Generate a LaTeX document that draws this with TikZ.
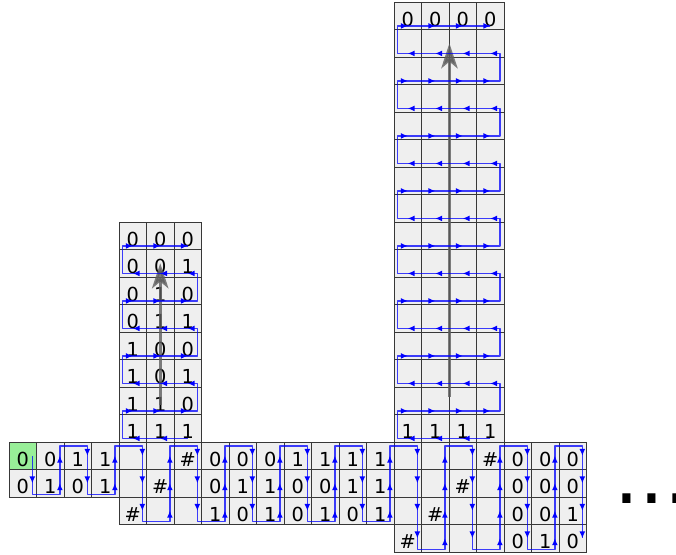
\documentclass[tikz,border=0pt]{standalone}
\usepackage{fontspec}
\setmainfont{DejaVu Sans}
\usetikzlibrary{arrows.meta}
\definecolor{TapeLine}{HTML}{383838}
\definecolor{TapeFill}{HTML}{EFEFEF}
\definecolor{TapeStart}{HTML}{98EE98}
\definecolor{TapeHead}{HTML}{0000FF}
\definecolor{TapeSweep}{HTML}{5E5E5E}
\tikzset{
  tapecell/.style={draw=TapeLine,fill=TapeFill,line width=0.9pt,
    minimum size=1cm,inner sep=0pt,text height=0.75cm,text depth=0pt,
    font=\fontsize{20}{20}\selectfont},
  headline/.style={TapeHead,line width=1.4pt,line join=round,draw opacity=0.75},
  headtip/.style={TapeHead,line width=1.2pt,-{Latex[length=7pt,width=6pt]}},
  sweep/.style={TapeSweep,line width=3pt,opacity=0.8,
    -{Stealth[length=26pt,width=17pt,inset=7pt]}}
}
\begin{document}
\begin{tikzpicture}[x=1cm,y=1cm]
  \useasboundingbox (-0.327,-4.073) rectangle (24.255,16.073);

  \node[tapecell,fill=TapeStart] (t-0-1) at (0.5,-0.5) {0};
  \node[tapecell] (t-0-2) at (0.5,-1.5) {0};
  \foreach \c/\va/\vb in {1/0/1,2/1/0,3/1/1}{
    \node[tapecell] (t-\c-1) at (\c+0.5,-0.5) {\va};
    \node[tapecell] (t-\c-2) at (\c+0.5,-1.5) {\vb};
  }
  \foreach \c/\va/\vb/\vc in {4/{}/{}/\#,5/{}/\#/{},6/\#/{}/{},7/0/0/1,
      8/0/1/0,9/0/1/1,10/1/0/0,11/1/0/1,12/1/1/0,13/1/1/1}{
    \node[tapecell] (t-\c-1) at (\c+0.5,-0.5) {\va};
    \node[tapecell] (t-\c-2) at (\c+0.5,-1.5) {\vb};
    \node[tapecell] (t-\c-3) at (\c+0.5,-2.5) {\vc};
  }
  \foreach \c/\va/\vb/\vc/\vd in {14/{}/{}/{}/\#,15/{}/{}/\#/{},
      16/{}/\#/{}/{},17/\#/{}/{}/{},18/0/0/0/0,19/0/0/0/1,20/0/0/1/0}{
    \node[tapecell] (t-\c-1) at (\c+0.5,-0.5) {\va};
    \node[tapecell] (t-\c-2) at (\c+0.5,-1.5) {\vb};
    \node[tapecell] (t-\c-3) at (\c+0.5,-2.5) {\vc};
    \node[tapecell] (t-\c-4) at (\c+0.5,-3.5) {\vd};
  }

  \foreach \k/\va/\vb/\vc in {1/1/1/1,2/1/1/0,3/1/0/1,4/1/0/0,
      5/0/1/1,6/0/1/0,7/0/0/1,8/0/0/0}{
    \node[tapecell] (l-\k-1) at (4.5,\k-0.5) {\va};
    \node[tapecell] (l-\k-2) at (5.5,\k-0.5) {\vb};
    \node[tapecell] (l-\k-3) at (6.5,\k-0.5) {\vc};
  }
  \foreach \k in {1,...,16}{
    \foreach \j in {1,...,4}{
      \node[tapecell] (r-\k-\j) at (13.5+\j,\k-0.5)
        {\ifnum\k=1 1\else\ifnum\k=16 0\fi\fi};
    }
  }

  \coordinate (l-from) at ([yshift=-0.15cm]l-2-2.center);
  \coordinate (r-from) at ([yshift=0.15cm]r-2-2.east);
  \draw[sweep] (l-from) -- (l-7-2.center);
  \draw[sweep] (r-from) -- (r-15-2.east);

  \draw[headline] (0.85,-0.5)
    foreach \c/\n in {0/2,2/2,4/3,6/3,8/3,10/3,12/3,14/4,16/4,18/4}{
      -- (\c+0.85,-\n+0.1) -- (\c+1.85,-\n+0.1)
      -- (\c+1.85,-0.14) -- (\c+2.85,-0.14)
    } -- (20.85,-3.5);
  \foreach \c in {0,...,20}{
    \pgfmathtruncatemacro\n{\c<4?2:(\c<14?3:4)}
    \pgfmathtruncatemacro\m{\c==0?2:1}
    \pgfmathsetmacro\s{mod(\c,2)==0?0.2:-0.2}
    \foreach \r in {\m,...,\n}
      \draw[headtip] (\c+0.85,0.5-\r+\s) -- (\c+0.85,0.5-\r);
  }

  \draw[headline] (6.5,0.13)
    foreach \k in {0,2,4}{
      -- (4.13,\k+0.13) -- (4.13,\k+1.13) -- (6.85,\k+1.13) -- (6.85,\k+2.13)
    } -- (4.13,6.13) -- (4.13,7.13) -- (6.5,7.13);
  \foreach \k in {1,...,8}{
    \pgfmathtruncatemacro\jmax{\k==1?2:3}
    \pgfmathsetmacro\s{mod(\k,2)==1?0.2:-0.2}
    \foreach \j in {1,...,\jmax}
      \draw[headtip] (3.5+\j+\s,\k-0.87) -- (3.5+\j,\k-0.87);
  }

  \draw[headline] (17.5,0.13)
    foreach \k in {0,2,...,12}{
      -- (14.13,\k+0.13) -- (14.13,\k+1.13) -- (17.85,\k+1.13) -- (17.85,\k+2.13)
    } -- (14.13,14.13) -- (14.13,15.13) -- (17.5,15.13);
  \foreach \k in {1,...,16}{
    \pgfmathtruncatemacro\jmax{\k==1?3:4}
    \pgfmathsetmacro\s{mod(\k,2)==1?0.2:-0.2}
    \foreach \j in {1,...,\jmax}
      \draw[headtip] (13.5+\j+\s,\k-0.87) -- (13.5+\j,\k-0.87);
  }

  \node[anchor=base west,inner sep=0pt,font=\fontsize{81}{81}\selectfont]
    (more) at (22.02,-2.22) {...};
\end{tikzpicture}
\end{document}
